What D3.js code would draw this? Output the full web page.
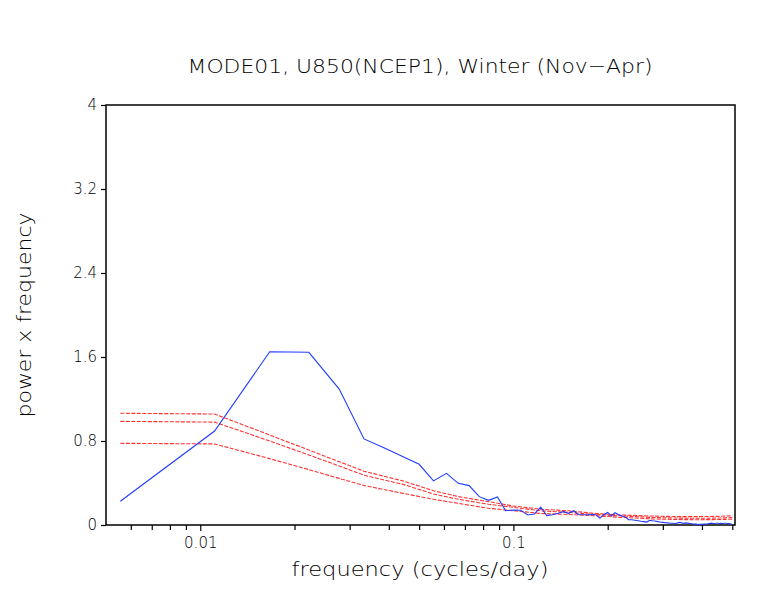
<!DOCTYPE html>
<html>
<head>
  <meta charset="utf-8">
  <script src="https://d3js.org/d3.v7.min.js"></script>
  <style>
    body { margin: 0; background: #fff; }
    text { font-family: "DejaVu Sans", sans-serif; fill: #000; }
  </style>
</head>
<body>
<script>
  // frequencies are k/180 cycles/day (winter season, 180 days)
  var nDays = 180;

  // blue spectrum, one value per harmonic k = 1..90
  var spectrum = [
    0.226, 0.895, 1.65, 1.645, 1.295, 0.82, 0.73, 0.65, 0.578, 0.42,
    0.492, 0.397, 0.375, 0.27, 0.235, 0.267, 0.136, 0.143, 0.14, 0.095,
    0.105, 0.17, 0.089, 0.098, 0.111, 0.127, 0.111, 0.136, 0.10, 0.098,
    0.098, 0.10, 0.098, 0.064, 0.10, 0.12, 0.086, 0.117, 0.098, 0.086,
    0.076, 0.05, 0.05, 0.045, 0.04, 0.035, 0.032, 0.028, 0.045, 0.04,
    0.038, 0.032, 0.028, 0.025, 0.022, 0.02, 0.016, 0.016, 0.015, 0.018,
    0.025, 0.02, 0.016, 0.02, 0.018, 0.015, 0.012, 0.01, 0.008, 0.005,
    0.006, 0.006, 0.008, 0.01, 0.012, 0.015, 0.018, 0.015, 0.014, 0.016,
    0.016, 0.015, 0.016, 0.015, 0.016, 0.016, 0.015, 0.014, 0.01, 0.004
  ];

  // red noise curves, read at these harmonics
  var redK = [1, 2, 3, 4, 5, 6, 8, 10, 12, 15, 18, 22, 27, 33, 40, 50, 60, 70, 80, 90];
  var redUpper = [1.064, 1.057, 0.857, 0.714, 0.603, 0.512, 0.419, 0.327, 0.27, 0.222,
                  0.181, 0.15, 0.135, 0.11, 0.095, 0.085, 0.08, 0.08, 0.082, 0.088];
  var redMiddle = [0.987, 0.98, 0.80, 0.667, 0.562, 0.474, 0.387, 0.295, 0.245, 0.197,
                   0.168, 0.135, 0.12, 0.10, 0.086, 0.072, 0.066, 0.064, 0.066, 0.07];
  var redLower = [0.778, 0.772, 0.632, 0.527, 0.444, 0.376, 0.301, 0.245, 0.206, 0.159,
                  0.136, 0.11, 0.10, 0.088, 0.072, 0.058, 0.052, 0.05, 0.052, 0.055];

  var yTicks = [0, 0.8, 1.6, 2.4, 3.2, 4];
  var xMajor = [0.01, 0.1];
  var xMinor = [0.006, 0.007, 0.008, 0.009, 0.02, 0.03, 0.04, 0.05, 0.06, 0.07, 0.08, 0.09,
                0.2, 0.3, 0.4, 0.5];

  var plotLeft = 106, plotRight = 735, plotTop = 105, plotBottom = 525;

  var svg = d3.select("body").append("svg")
    .attr("width", 770)
    .attr("height", 595);

  var x = d3.scaleLog().domain([0.005, 0.51]).range([plotLeft, plotRight]);
  var y = d3.scaleLinear().domain([0, 4]).range([plotBottom, plotTop]);

  // y axis ticks + labels
  var yAxis = d3.axisLeft(y).tickValues(yTicks).tickSize(5).tickPadding(4)
    .tickFormat(function(d) { return d; });
  svg.append("g").attr("transform", "translate(" + plotLeft + ",0)").call(yAxis)
    .call(function(g) {
      g.select(".domain").remove();
      g.selectAll("line").attr("stroke", "#000").attr("stroke-width", 1.2);
      g.selectAll("text").style("font-size", "15px").style("font-weight", "300").attr("fill", "#000");
    });

  // x axis ticks
  var xAxisMinor = d3.axisBottom(x).tickValues(xMinor).tickSize(5).tickFormat("");
  svg.append("g").attr("transform", "translate(0," + plotBottom + ")").call(xAxisMinor)
    .call(function(g) {
      g.select(".domain").remove();
      g.selectAll("line").attr("stroke", "#000").attr("stroke-width", 1.2);
    });
  var xAxisMajor = d3.axisBottom(x).tickValues(xMajor).tickSize(6).tickPadding(6)
    .tickFormat(function(d) { return d; });
  svg.append("g").attr("transform", "translate(0," + plotBottom + ")").call(xAxisMajor)
    .call(function(g) {
      g.select(".domain").remove();
      g.selectAll("line").attr("stroke", "#000").attr("stroke-width", 1.2);
      g.selectAll("text").style("font-size", "15px").style("font-weight", "300").attr("fill", "#000");
    });

  // frame
  svg.append("rect")
    .attr("x", plotLeft).attr("y", plotTop)
    .attr("width", plotRight - plotLeft).attr("height", plotBottom - plotTop)
    .attr("fill", "none").attr("stroke", "#000").attr("stroke-width", 1.5);

  var line = d3.line()
    .x(function(d) { return x(d[0] / nDays); })
    .y(function(d) { return y(d[1]); });

  // red noise (dashed)
  [redUpper, redMiddle, redLower].forEach(function(vals) {
    svg.append("path")
      .datum(redK.map(function(k, i) { return [k, vals[i]]; }))
      .attr("d", line)
      .attr("fill", "none")
      .attr("stroke", "#ff3030")
      .attr("stroke-width", 1.1)
      .attr("stroke-dasharray", "4,1.5");
  });

  // spectrum
  svg.append("path")
    .datum(spectrum.map(function(v, i) { return [i + 1, v]; }))
    .attr("d", line)
    .attr("fill", "none")
    .attr("stroke", "#1f3cff")
    .attr("stroke-width", 1.1);

  // title and axis labels
  svg.append("text")
    .attr("x", 420).attr("y", 73)
    .attr("text-anchor", "middle")
    .attr("textLength", 465).attr("lengthAdjust", "spacingAndGlyphs")
    .style("font-size", "20px").style("font-weight", "300")
    .text("MODE01, U850(NCEP1), Winter (Nov\u2212Apr)");

  svg.append("text")
    .attr("x", 420).attr("y", 576)
    .attr("text-anchor", "middle")
    .attr("textLength", 257).attr("lengthAdjust", "spacingAndGlyphs")
    .style("font-size", "19px").style("font-weight", "300")
    .text("frequency (cycles/day)");

  svg.append("text")
    .attr("transform", "translate(31,315) rotate(-90)")
    .attr("text-anchor", "middle")
    .attr("textLength", 205).attr("lengthAdjust", "spacingAndGlyphs")
    .style("font-size", "19px").style("font-weight", "300")
    .text("power x frequency");
</script>
</body>
</html>
